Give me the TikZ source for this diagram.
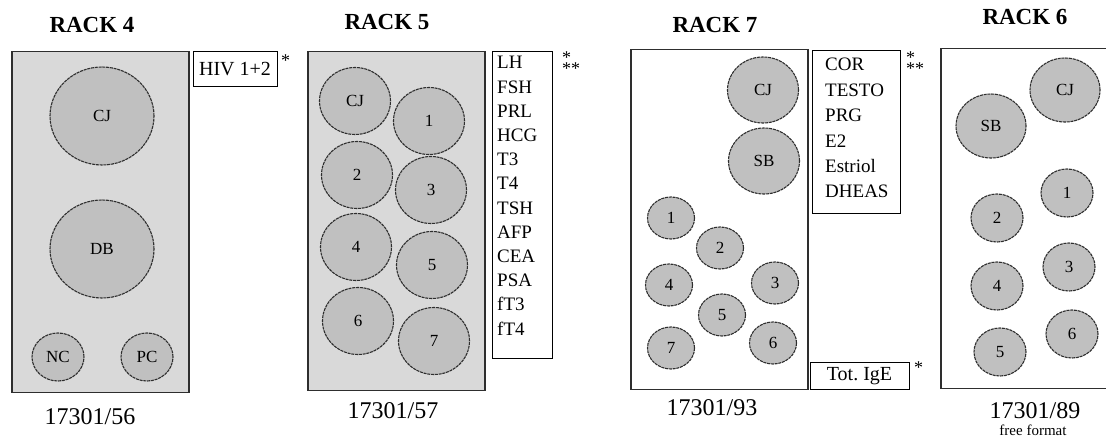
\documentclass[tikz,border=0pt]{standalone}
\usepackage{fontspec}
\setmainfont{Liberation Serif}
\usepackage{tikz}
\usetikzlibrary{shapes.geometric}
\definecolor{rackfill}{HTML}{D9D9D9}
\definecolor{wellfill}{HTML}{C0C0C0}
\definecolor{edge}{HTML}{2E2E2E}

\tikzset{
  rackbox/.style={draw=edge, line width=1.5pt, anchor=north west, inner sep=0pt},
  well/.style={ellipse, draw=edge, fill=wellfill, line width=1.1pt,
               dash pattern=on 3pt off 0.8pt, inner sep=0pt,
               font=\fontsize{17}{20}\selectfont},
  bigwell/.style={well, minimum width=104pt, minimum height=98pt},
  midwell/.style={well, minimum width=71pt, minimum height=67pt},
  smallwell/.style={well, minimum width=52pt, minimum height=48pt},
  tinywell/.style={well, minimum width=47pt, minimum height=42pt},
  listbox/.style={draw=black, line width=1pt, anchor=north west, inner sep=0pt},
  title/.style={font=\fontsize{23}{26}\selectfont\bfseries},
  code/.style={font=\fontsize{24}{28}\selectfont},
  entry/.style={anchor=base west, inner sep=0pt, font=\fontsize{19}{22}\selectfont},
  starmark/.style={anchor=north west, inner sep=0pt, align=left,
                   font=\fontsize{18}{10}\selectfont}
}

\begin{document}
\begin{tikzpicture}[x=1pt, y=-1pt]
  \useasboundingbox (0,0) rectangle (1106,443);

  % rack 4
  \node[title] (t4) at (92,25) {RACK 4};
  \node[rackbox, fill=rackfill, minimum width=177pt, minimum height=341pt] (r4) at (11,51) {};
  \node[bigwell] (r4cj) at (102,116) {CJ};
  \node[bigwell] (r4db) at (102,249) {DB};
  \node[smallwell] (r4nc) at (58,357) {NC};
  \node[smallwell] (r4pc) at (147,357) {PC};
  \node[code] (c4) at (90,417) {17301/56};
  \node[draw=black, line width=1pt, minimum width=84pt, minimum height=35pt, inner sep=0pt,
        font=\fontsize{20}{24}\selectfont] (hiv) at (235,69.5) {HIV 1+2};
  \node[starmark] (hivm) at (281,55) {*};

  % rack 5
  \node[title] (t5) at (387,22) {RACK 5};
  \node[rackbox, fill=rackfill, minimum width=177pt, minimum height=339pt] (r5) at (307,51) {};
  \node[midwell] (r5cj) at (355,101) {CJ};
  \node[midwell] (r5w1) at (429,121) {1};
  \node[midwell] (r5w2) at (357,175) {2};
  \node[midwell] (r5w3) at (431,190) {3};
  \node[midwell] (r5w4) at (356,247) {4};
  \node[midwell] (r5w5) at (432,265) {5};
  \node[midwell] (r5w6) at (358,321) {6};
  \node[midwell] (r5w7) at (434,341) {7};
  \node[code] (c5) at (393,411) {17301/57};
  \node[listbox, minimum width=60pt, minimum height=307pt] (l5) at (492,51) {};
  \foreach \t [count=\i from 0] in {LH,FSH,PRL,HCG,T3,T4,TSH,AFP,CEA,PSA,fT3,fT4}
    \node[entry] (l5e\i) at (497,69+24.2*\i) {\t};
  \node[starmark] (l5m) at (562,52) {*\\[-2.5pt]**};

  % rack 7
  \node[title] (t7) at (715,25) {RACK 7};
  \node[rackbox, fill=white, minimum width=177pt, minimum height=340pt] (r7) at (630,49) {};
  \node[midwell, minimum height=66pt] (r7cj) at (763,90) {CJ};
  \node[midwell, minimum height=66pt] (r7sb) at (764,161) {SB};
  \node[tinywell] (r7w1) at (671,218) {1};
  \node[tinywell] (r7w2) at (720,248) {2};
  \node[tinywell] (r7w3) at (775,283) {3};
  \node[tinywell] (r7w4) at (669,285) {4};
  \node[tinywell] (r7w5) at (722,315) {5};
  \node[tinywell] (r7w6) at (773,343) {6};
  \node[tinywell] (r7w7) at (671,348) {7};
  \node[code] (c7) at (712,408) {17301/93};
  \node[listbox, minimum width=88pt, minimum height=163pt] (l7) at (812,50) {};
  \foreach \t [count=\i from 0] in {COR,TESTO,PRG,E2,Estriol,DHEAS}
    \node[entry] (l7e\i) at (825,71+25.4*\i) {\t};
  \node[starmark] (l7m) at (906,52) {*\\[-2.5pt]**};
  \node[draw=black, line width=1pt, minimum width=99pt, minimum height=27pt, inner sep=0pt,
        font=\fontsize{20}{24}\selectfont] (ige) at (859.5,376.5) {Tot.\ IgE};
  \node[starmark] (igem) at (914,362) {*};

  % rack 6
  \node[title] (t6) at (1025,17) {RACK 6};
  \node[rackbox, fill=white, minimum width=175pt, minimum height=340pt] (r6) at (940,48) {};
  \node[midwell, minimum width=70pt, minimum height=64pt] (r6cj) at (1065,90) {CJ};
  \node[midwell, minimum width=70pt, minimum height=64pt] (r6sb) at (991,126) {SB};
  \node[smallwell] (r6w1) at (1067,193) {1};
  \node[smallwell] (r6w2) at (997,218) {2};
  \node[smallwell] (r6w3) at (1069,267) {3};
  \node[smallwell] (r6w4) at (997,286) {4};
  \node[smallwell] (r6w5) at (1000,352) {5};
  \node[smallwell] (r6w6) at (1072,334) {6};
  \node[code] (c6) at (1035,411) {17301/89};
  \node[font=\fontsize{15}{18}\selectfont] (ff) at (1033,430) {free format};
\end{tikzpicture}
\end{document}
